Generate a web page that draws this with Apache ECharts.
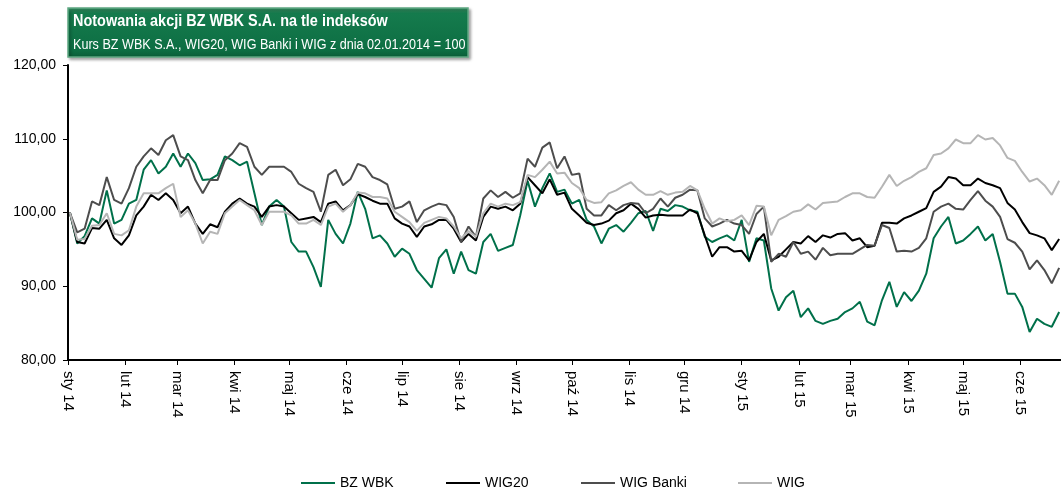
<!DOCTYPE html>
<html>
<head>
<meta charset="utf-8">
<script src="https://cdn.jsdelivr.net/npm/echarts@6/dist/echarts.min.js"></script>
<style>
html, body { margin: 0; padding: 0; background: #fff; }
#main { width: 1061px; height: 490px; }
</style>
</head>
<body>
<div id="main"></div>
<script>
// dane (co 4 dni)
var dates = [
 '2014-01-02','2014-01-06','2014-01-10','2014-01-14','2014-01-18','2014-01-22','2014-01-26','2014-01-30',
 '2014-02-03','2014-02-07','2014-02-11','2014-02-15','2014-02-19','2014-02-23','2014-02-27',
 '2014-03-03','2014-03-07','2014-03-11','2014-03-15','2014-03-19','2014-03-23','2014-03-27','2014-03-31',
 '2014-04-04','2014-04-08','2014-04-12','2014-04-16','2014-04-20','2014-04-24','2014-04-28',
 '2014-05-02','2014-05-06','2014-05-10','2014-05-14','2014-05-18','2014-05-22','2014-05-26','2014-05-30',
 '2014-06-03','2014-06-07','2014-06-11','2014-06-15','2014-06-19','2014-06-23','2014-06-27',
 '2014-07-01','2014-07-05','2014-07-09','2014-07-13','2014-07-17','2014-07-21','2014-07-25','2014-07-29',
 '2014-08-02','2014-08-06','2014-08-10','2014-08-14','2014-08-18','2014-08-22','2014-08-26','2014-08-30',
 '2014-09-03','2014-09-07','2014-09-11','2014-09-15','2014-09-19','2014-09-23','2014-09-27',
 '2014-10-01','2014-10-05','2014-10-09','2014-10-13','2014-10-17','2014-10-21','2014-10-25','2014-10-29',
 '2014-11-02','2014-11-06','2014-11-10','2014-11-14','2014-11-18','2014-11-22','2014-11-26','2014-11-30',
 '2014-12-04','2014-12-08','2014-12-12','2014-12-16','2014-12-20','2014-12-24','2014-12-28',
 '2015-01-01','2015-01-05','2015-01-09','2015-01-13','2015-01-17','2015-01-21','2015-01-25','2015-01-29',
 '2015-02-02','2015-02-06','2015-02-10','2015-02-14','2015-02-18','2015-02-22','2015-02-26',
 '2015-03-02','2015-03-06','2015-03-10','2015-03-14','2015-03-18','2015-03-22','2015-03-26','2015-03-30',
 '2015-04-03','2015-04-07','2015-04-11','2015-04-15','2015-04-19','2015-04-23','2015-04-27',
 '2015-05-01','2015-05-05','2015-05-09','2015-05-13','2015-05-17','2015-05-21','2015-05-25','2015-05-29',
 '2015-06-02','2015-06-06','2015-06-10','2015-06-14','2015-06-18','2015-06-22'
];

var bzwbk = [
 100, 95.8, 96.8, 99.2, 98.5, 103.0, 98.5, 99.0,
 101.2, 101.7, 105.8, 107.1, 105.3, 106.2, 108.0,
 106.2, 108.0, 106.7, 104.4, 104.5, 105.1, 107.6, 107.1,
 106.4, 106.9, 102.6, 98.3, 100.8, 101.7, 100.8,
 96.0, 94.7, 94.7, 92.6, 89.9, 99.0, 97.1, 95.8,
 98.5, 102.8, 100.5, 96.5, 96.9, 95.8, 94.0,
 95.1, 94.4, 92.2, 91.0, 89.8, 93.8, 95.0, 91.7,
 94.7, 92.2, 91.7, 96.0, 97.1, 94.8, 95.2, 95.6,
 99.6, 104.3, 100.8, 103.3, 105.3, 102.8, 103.1,
 101.2, 101.7, 99.0, 98.1, 95.8, 97.8, 98.3, 97.4,
 98.6, 99.9, 100.2, 97.5, 100.5, 100.2, 101.0, 100.8,
 100.3, 100.1, 96.7, 96.0, 96.5, 96.9, 96.2,
 99.0, 93.3, 96.5, 96.2, 89.7, 86.7, 88.5, 89.4,
 85.8, 87.0, 85.3, 84.9, 85.3, 85.6, 86.5,
 87.0, 87.9, 85.2, 84.7, 88.1, 90.6, 87.2, 89.2,
 88.0, 89.4, 91.7, 96.5, 98.1, 99.4, 95.8,
 96.2, 97.1, 98.1, 96.2, 97.1, 93.3, 89.0, 89.0,
 87.2, 83.8, 85.6, 84.9, 84.5, 86.5
];

var wig20 = [
 100, 96.0, 95.8, 97.9, 97.8, 99.0, 96.5, 95.6,
 96.9, 99.6, 100.8, 102.4, 101.7, 102.6, 101.7,
 99.9, 100.8, 98.5, 97.1, 98.4, 98.0, 100.1, 101.2,
 101.9, 101.2, 100.8, 99.4, 100.8, 101.0, 100.8,
 99.9, 99.0, 99.2, 99.4, 98.7, 101.2, 101.5, 100.3,
 101.0, 102.5, 102.1, 101.6, 101.2, 101.2, 99.2,
 98.5, 98.1, 96.7, 98.1, 98.4, 99.0, 99.0, 97.8,
 96.0, 97.1, 96.2, 99.4, 100.8, 100.5, 100.8, 100.3,
 101.2, 104.8, 103.7, 102.6, 104.5, 102.4, 102.7,
 100.5, 99.6, 98.6, 98.3, 98.5, 98.9, 99.9, 100.3,
 101.2, 100.5, 99.3, 99.6, 99.7, 99.6, 99.6, 99.6,
 100.4, 99.9, 96.9, 94.0, 95.3, 95.3, 94.7,
 94.8, 93.5, 96.0, 97.1, 93.5, 94.0, 95.0, 96.0,
 95.8, 96.8, 96.0, 96.9, 96.6, 97.1, 97.2,
 96.2, 96.5, 95.3, 95.5, 98.6, 98.6, 98.5, 99.2,
 99.6, 100.1, 100.6, 102.8, 103.5, 104.8, 104.6,
 103.7, 103.7, 104.6, 104.0, 103.7, 103.3, 101.3, 100.4,
 98.7, 97.2, 96.9, 96.5, 94.9, 96.4
];

var wigBanki = [
 100, 97.3, 97.8, 101.5, 101.0, 104.8, 101.7, 101.2,
 103.3, 106.2, 107.6, 108.7, 107.8, 109.8, 110.5,
 107.6, 107.1, 104.4, 102.6, 104.4, 104.4, 107.1, 108.0,
 109.4, 108.9, 106.2, 105.1, 106.2, 106.2, 106.2,
 105.5, 103.9, 103.3, 102.8, 100.1, 105.1, 105.8, 103.7,
 104.5, 106.6, 106.2, 104.8, 104.4, 103.8, 100.5,
 100.8, 101.5, 98.7, 100.3, 100.8, 101.2, 101.0, 99.4,
 96.0, 98.1, 96.7, 101.9, 103.0, 102.1, 102.8, 102.0,
 102.6, 107.3, 106.2, 108.8, 109.5, 106.0, 107.6,
 105.1, 105.3, 100.5, 99.6, 99.6, 101.0, 100.3, 101.0,
 101.3, 101.2, 99.9, 100.5, 101.9, 100.8, 102.0, 102.4,
 103.1, 103.0, 99.2, 98.1, 98.5, 99.0, 98.5,
 98.3, 97.1, 99.8, 100.8, 93.3, 94.4, 94.0, 96.0,
 94.4, 94.7, 93.6, 95.2, 94.2, 94.4, 94.4,
 94.4, 95.0, 95.6, 95.5, 98.3, 97.9, 94.7, 94.8,
 94.7, 95.2, 96.5, 100.1, 100.8, 101.2, 100.5,
 100.4, 101.7, 102.9, 101.6, 100.8, 99.4, 96.4, 95.9,
 94.7, 92.3, 93.5, 92.2, 90.4, 92.5
];

var wig = [
 100, 96.3, 96.4, 98.2, 98.3, 99.9, 97.1, 96.9,
 97.6, 100.8, 102.6, 102.6, 102.6, 103.3, 103.9,
 99.4, 100.3, 98.5, 95.8, 97.4, 97.1, 99.9, 100.8,
 101.7, 101.0, 100.3, 98.3, 100.1, 100.1, 100.1,
 99.6, 98.5, 98.5, 99.0, 98.3, 100.8, 101.2, 100.1,
 101.0, 102.7, 102.6, 102.1, 102.1, 101.9, 100.1,
 99.4, 98.7, 97.5, 98.6, 99.0, 99.4, 99.2, 98.1,
 96.5, 97.5, 96.7, 99.9, 101.2, 100.8, 101.2, 101.0,
 101.4, 105.1, 104.8, 105.8, 106.9, 105.3, 105.4,
 104.0, 103.3, 101.7, 101.3, 101.4, 102.6, 103.0, 103.6,
 104.1, 103.1, 102.4, 102.4, 102.9, 102.4, 102.7, 102.8,
 103.6, 103.0, 100.5, 98.5, 99.2, 98.8, 99.0,
 99.6, 98.3, 100.9, 100.8, 96.9, 99.0, 99.5, 100.1,
 100.3, 101.1, 100.4, 101.3, 101.4, 101.5, 102.1,
 102.6, 102.6, 102.1, 102.0, 103.5, 105.1, 103.6, 104.3,
 104.8, 105.5, 106.0, 107.8, 108.0, 108.7, 109.9,
 109.4, 109.4, 110.5, 109.9, 110.1, 109.1, 107.4, 107.0,
 105.5, 104.2, 104.6, 103.7, 102.4, 104.3
];

var seriesNames = ['BZ WBK', 'WIG20', 'WIG Banki', 'WIG'];
var seriesColors = ['#00704a', '#000000', '#4d4d4d', '#b5b5b5'];
var monthNames = ['sty', 'lut', 'mar', 'kwi', 'maj', 'cze', 'lip', 'sie', 'wrz', 'paź', 'lis', 'gru'];

var fontFam = '"Liberation Sans", Arial, sans-serif';

function pairs(values) {
    return dates.map(function (d, i) { return [d, values[i]]; });
}

var myChart = echarts.init(document.getElementById('main'));

var allValues = [bzwbk, wig20, wigBanki, wig];
var series = allValues.map(function (vals, i) {
    return {
        name: seriesNames[i],
        type: 'line',
        data: pairs(vals),
        symbol: 'none',
        showSymbol: false,
        lineStyle: { color: seriesColors[i], width: 2 },
        itemStyle: { color: seriesColors[i] }
    };
});

// jedna legenda na serię, żeby ustawić pozycje jak w oryginale
var legendLeft = [301, 446, 581, 738];
var legends = seriesNames.map(function (n, i) {
    return {
        data: [n],
        left: legendLeft[i],
        bottom: 0,
        padding: 0,
        icon: 'rect',
        itemWidth: 34,
        itemHeight: 2,
        itemGap: 0,
        textStyle: { color: '#000', fontSize: 14, fontFamily: fontFam }
    };
});

var DAY = 24 * 3600 * 1000;

option = {
    animation: false,
    grid: {
        left: 68,
        right: 0,
        top: 65,
        bottom: 130
    },
    legend: legends,
    xAxis: {
        type: 'time',
        min: '2014-01-01',
        max: '2015-06-23',
        minInterval: 28 * DAY,
        maxInterval: 31 * DAY,
        splitNumber: 18,
        axisLine: { lineStyle: { color: '#000', width: 2 } },
        axisTick: { show: true, length: 5, lineStyle: { color: '#000', width: 1 } },
        axisLabel: {
            rotate: -90,
            margin: 11,
            color: '#000',
            fontSize: 15,
            fontFamily: fontFam,
            showMinLabel: true,
            hideOverlap: false,
            formatter: function (value) {
                var d = new Date(value);
                return monthNames[d.getMonth()] + ' ' + String(d.getFullYear()).slice(2);
            }
        },
        splitLine: { show: false }
    },
    yAxis: {
        type: 'value',
        min: 80,
        max: 120,
        interval: 10,
        axisLine: { show: true, lineStyle: { color: '#000', width: 2 } },
        axisTick: { show: true, length: 5, lineStyle: { color: '#000', width: 1 } },
        axisLabel: {
            color: '#000',
            fontSize: 14,
            fontFamily: fontFam,
            margin: 12,
            formatter: function (v) { return v.toFixed(2).replace('.', ','); }
        },
        splitLine: { show: false }
    },
    graphic: [
        {
            type: 'rect',
            x: 68,
            y: 8,
            shape: { width: 400, height: 49 },
            style: {
                fill: new echarts.graphic.LinearGradient(0, 0, 0, 1, [
                    { offset: 0, color: '#3f9a6c' },
                    { offset: 0.12, color: '#157b4d' },
                    { offset: 0.85, color: '#0d6e43' },
                    { offset: 1, color: '#0a5c37' }
                ]),
                stroke: '#5fa882',
                lineWidth: 1.5,
                shadowBlur: 3,
                shadowOffsetX: 2,
                shadowOffsetY: 2,
                shadowColor: 'rgba(0,0,0,0.35)'
            }
        },
        {
            type: 'text',
            x: 73,
            y: 13,
            scaleX: 0.85,
            style: {
                text: 'Notowania akcji BZ WBK S.A. na tle indeksów',
                fill: '#fff',
                font: 'bold 17px ' + fontFam
            }
        },
        {
            type: 'text',
            x: 73,
            y: 37,
            scaleX: 0.84,
            style: {
                text: 'Kurs BZ WBK S.A., WIG20, WIG Banki i WIG z dnia 02.01.2014 = 100',
                fill: '#fff',
                font: '15px ' + fontFam
            }
        }
    ],
    series: series
};

myChart.setOption(option);
</script>
</body>
</html>
